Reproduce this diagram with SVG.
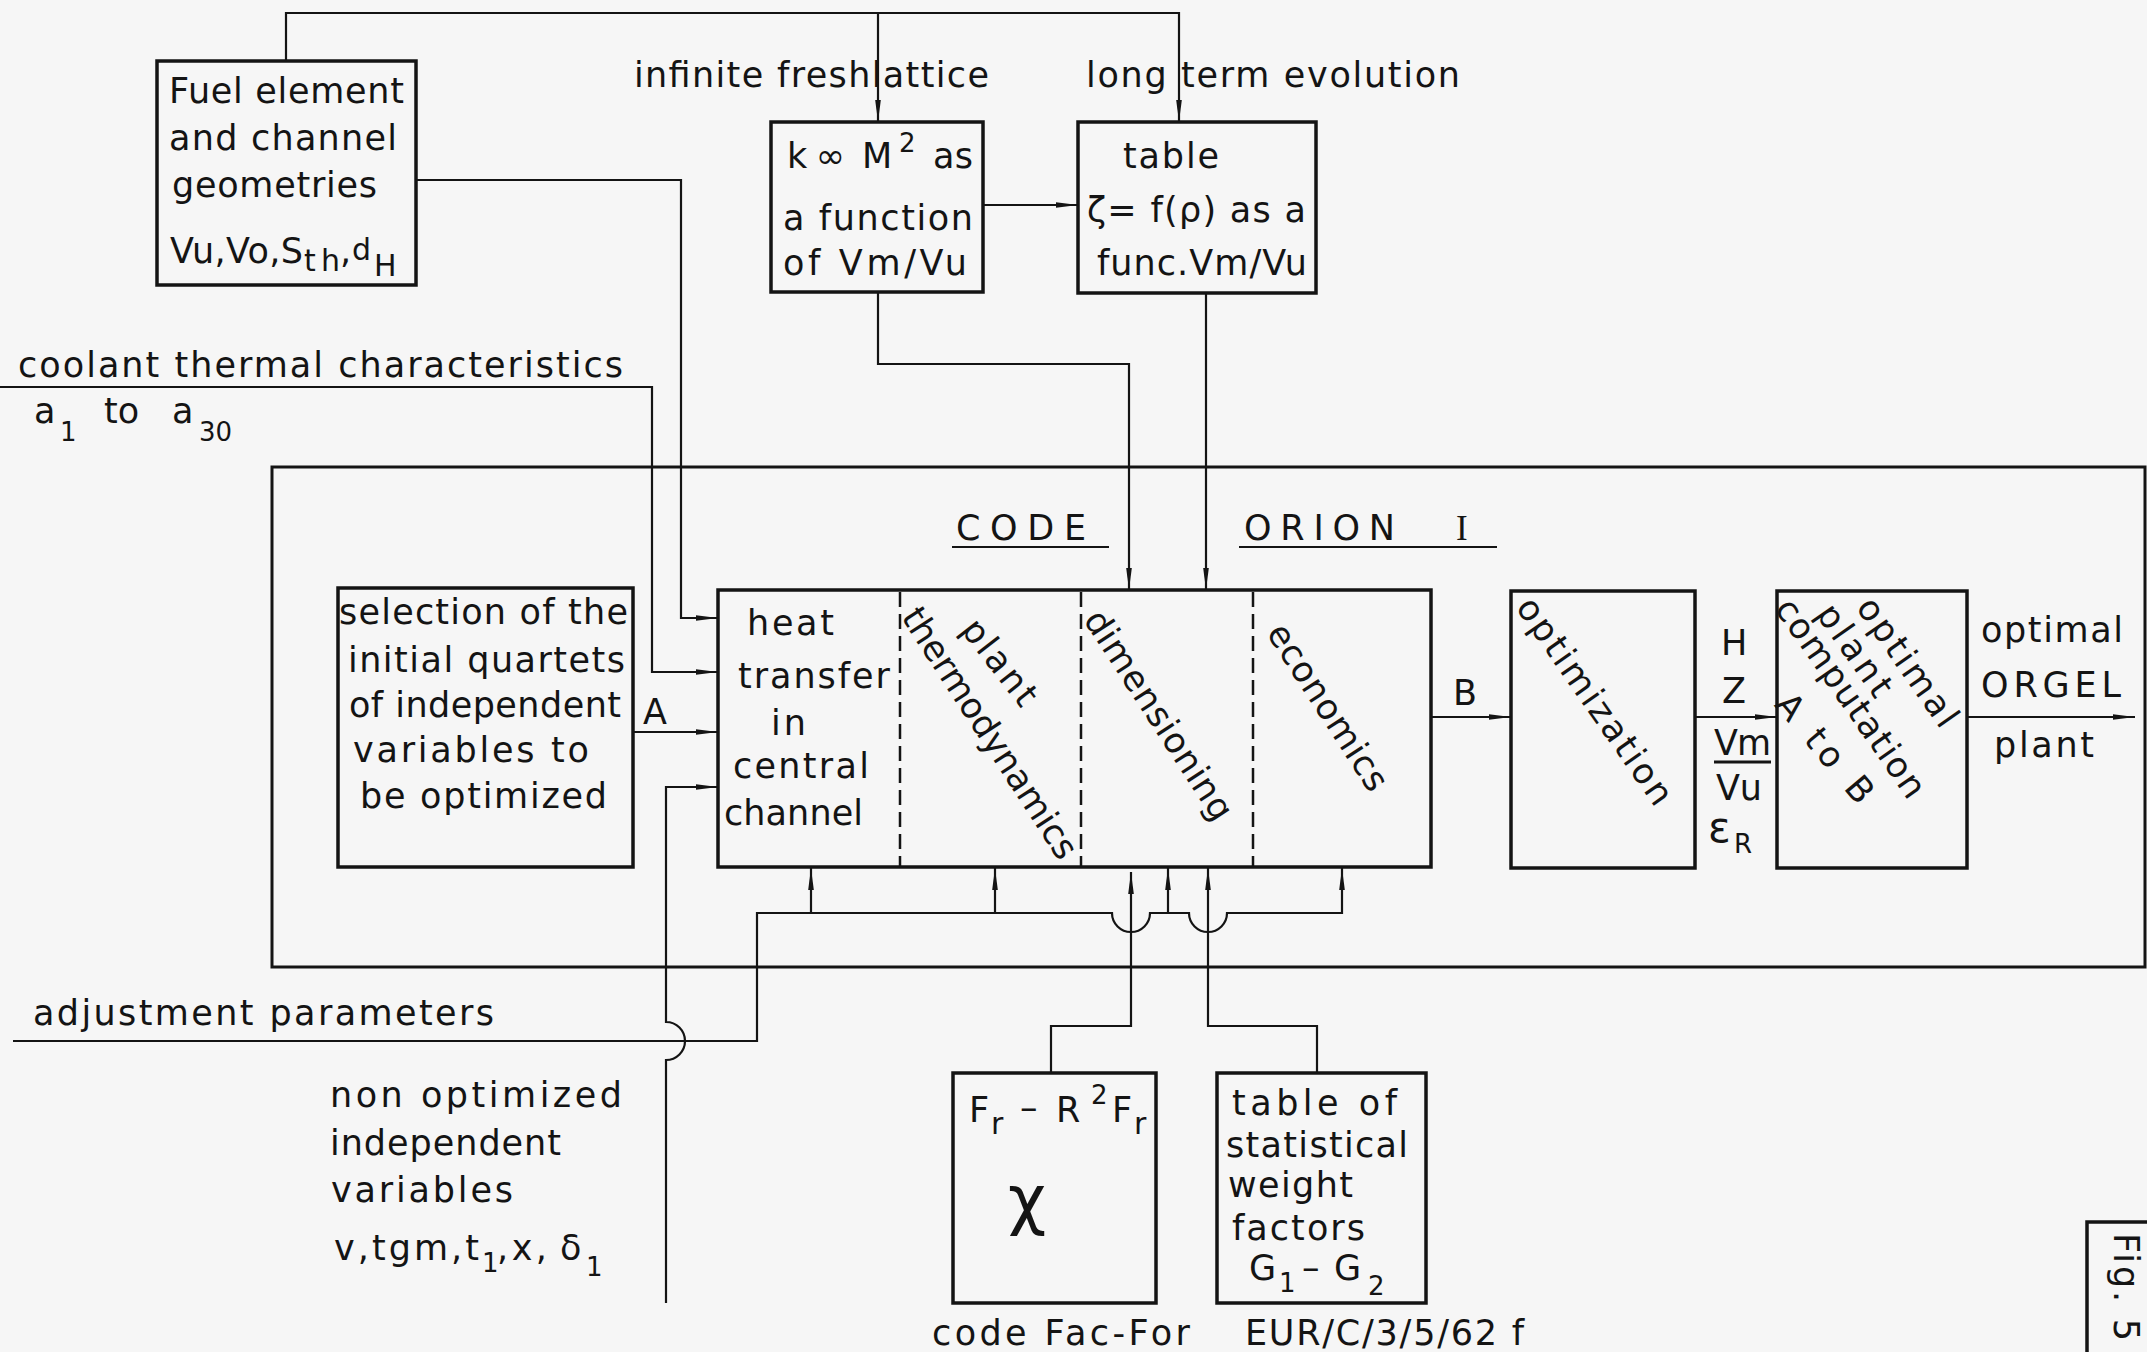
<svg xmlns="http://www.w3.org/2000/svg" width="2147" height="1352" viewBox="0 0 2147 1352">
<style>
.t{font-family:"DejaVu Sans","Liberation Sans",sans-serif;font-size:35px;fill:#141414}
.s{font-size:26px}
.box{fill:none;stroke:#141414;stroke-width:3.5}
.ln{fill:none;stroke:#141414;stroke-width:2.2}
.dash{fill:none;stroke:#141414;stroke-width:2.5;stroke-dasharray:15 7}
.r{text-anchor:middle;dominant-baseline:central}
</style>
<defs>
<marker id="ah" viewBox="0 0 22 8" refX="22" refY="4" markerWidth="22" markerHeight="8" markerUnits="userSpaceOnUse" orient="auto">
<path d="M0,1.2 L22,4 L0,6.8 z" fill="#141414"/>
</marker>
</defs>
<rect x="0" y="0" width="2147" height="1352" fill="#f6f6f6"/>

<g id="outer-code-frame">
<rect class="box" x="272" y="467" width="1873" height="500" style="stroke-width:3"/>
<text class="t" x="956" y="540" textLength="130">CODE</text>
<line class="ln" x1="952" y1="547" x2="1109" y2="547"/>
<text class="t" x="1244" y="540" textLength="151">ORION</text>
<text class="t" x="1456" y="540" style="font-family:'Liberation Serif',serif">I</text>
<line class="ln" x1="1239" y1="547" x2="1497" y2="547"/>
</g>

<g id="fuel-box">
<rect class="box" x="157" y="61" width="259" height="224"/>
<text class="t" x="169" y="103" textLength="235">Fuel element</text>
<text class="t" x="169" y="150" textLength="228">and channel</text>
<text class="t" x="172" y="197" textLength="205">geometries</text>
<text class="t" x="170" y="263" textLength="133">Vu,Vo,S</text>
<text class="t" x="304" y="271" style="font-size:30px" textLength="36">th</text>
<text class="t" x="340" y="263">,</text>
<text class="t" x="352" y="260" style="font-size:30px">d</text>
<text class="t" x="374" y="276" style="font-size:30px">H</text>
</g>

<g id="kinf-box">
<rect class="box" x="771" y="122" width="212" height="170"/>
<text class="t" x="787" y="168" textLength="58">k∞</text>
<text class="t" x="862" y="168">M</text>
<text class="t s" x="899" y="152">2</text>
<text class="t" x="933" y="168" textLength="40">as</text>
<text class="t" x="783" y="230" textLength="190">a function</text>
<text class="t" x="783" y="275" textLength="184">of Vm/Vu</text>
</g>

<g id="table-box">
<rect class="box" x="1078" y="122" width="238" height="171"/>
<text class="t" x="1123" y="168" textLength="96">table</text>
<text class="t" x="1087" y="222" textLength="219">ζ= f(ρ) as a</text>
<text class="t" x="1097" y="275" textLength="210">func.Vm/Vu</text>
</g>

<g id="top-labels">
<text class="t" x="634" y="87" textLength="355">infinite freshlattice</text>
<text class="t" x="1086" y="87" textLength="374">long term evolution</text>
</g>

<g id="coolant-label">
<text class="t" x="18" y="377" textLength="605">coolant thermal  characteristics</text>
<text class="t" x="34" y="423">a</text>
<text class="t s" x="60" y="441">1</text>
<text class="t" x="104" y="423">to</text>
<text class="t" x="172" y="423">a</text>
<text class="t s" x="199" y="441">30</text>
</g>

<g id="selection-box">
<rect class="box" x="338" y="588" width="295" height="279"/>
<text class="t" x="339" y="624" textLength="289">selection of the</text>
<text class="t" x="348" y="672" textLength="277">initial quartets</text>
<text class="t" x="349" y="717" textLength="272">of independent</text>
<text class="t" x="353" y="762" textLength="236">variables to</text>
<text class="t" x="360" y="808" textLength="247">be optimized</text>
</g>

<g id="code-box">
<rect class="box" x="718" y="590" width="713" height="277"/>
<line class="dash" x1="900" y1="592" x2="900" y2="866"/>
<line class="dash" x1="1081" y1="592" x2="1081" y2="866"/>
<line class="dash" x1="1253" y1="592" x2="1253" y2="866"/>
<text class="t" x="747" y="635" textLength="87">heat</text>
<text class="t" x="738" y="688" textLength="152">transfer</text>
<text class="t" x="771" y="735" textLength="35">in</text>
<text class="t" x="733" y="778" textLength="136">central</text>
<text class="t" x="724" y="825" textLength="139">channel</text>
<text class="t r" x="1000" y="662" textLength="100" transform="rotate(52 1000 662)">plant</text>
<text class="t r" x="990" y="733" textLength="292" transform="rotate(57 990 733)">thermodynamics</text>
<text class="t r" x="1159" y="715" textLength="243" transform="rotate(57 1159 715)">dimensioning</text>
<text class="t r" x="1328" y="707" textLength="192" transform="rotate(57 1328 707)">economics</text>
</g>

<g id="optimization-box">
<rect class="box" x="1511" y="591" width="184" height="277"/>
<text class="t r" x="1595" y="701" textLength="245" transform="rotate(55 1595 701)">optimization</text>
</g>

<g id="final-box">
<rect class="box" x="1777" y="591" width="190" height="277"/>
<text class="t r" x="1908" y="662" textLength="150" transform="rotate(55 1908 662)">optimal</text>
<text class="t r" x="1855" y="650" textLength="105" transform="rotate(55 1855 650)">plant</text>
<text class="t r" x="1851" y="698" textLength="235" transform="rotate(55 1851 698)">computation</text>
<text class="t r" x="1825" y="748" textLength="132" transform="rotate(50 1825 748)">A to B</text>
</g>

<g id="fr-box">
<rect class="box" x="953" y="1073" width="203" height="230"/>
<text class="t" x="969" y="1122">F</text>
<text class="t" x="991" y="1134" style="font-size:30px">r</text>
<text class="t" x="1020" y="1120">–</text>
<text class="t" x="1056" y="1122">R</text>
<text class="t s" x="1091" y="1104">2</text>
<text class="t" x="1112" y="1122">F</text>
<text class="t" x="1134" y="1134" style="font-size:30px">r</text>
<text class="t" x="1008" y="1222" style="font-size:66px">χ</text>
</g>

<g id="weights-box">
<rect class="box" x="1217" y="1073" width="209" height="230"/>
<text class="t" x="1232" y="1115" textLength="165">table  of</text>
<text class="t" x="1226" y="1157" textLength="182">statistical</text>
<text class="t" x="1228" y="1197" textLength="125">weight</text>
<text class="t" x="1232" y="1240" textLength="133">factors</text>
<text class="t" x="1249" y="1280">G</text>
<text class="t s" x="1279" y="1292">1</text>
<text class="t" x="1302" y="1280">–</text>
<text class="t" x="1334" y="1280">G</text>
<text class="t s" x="1368" y="1295">2</text>
</g>

<g id="side-labels">
<text class="t" x="643" y="724">A</text>
<text class="t" x="1453" y="705">B</text>
<text class="t" x="1721" y="655">H</text>
<text class="t" x="1722" y="703">Z</text>
<text class="t" x="1714" y="755" textLength="57">Vm</text>
<line class="ln" x1="1714" y1="762" x2="1771" y2="762" style="stroke-width:3"/>
<text class="t" x="1716" y="800" textLength="46">Vu</text>
<text class="t" x="1708" y="842" style="font-size:42px">ε</text>
<text class="t s" x="1734" y="853">R</text>
<text class="t" x="1981" y="642" textLength="142">optimal</text>
<text class="t" x="1981" y="697" textLength="140">ORGEL</text>
<text class="t" x="1994" y="757" textLength="100">plant</text>
<text class="t" x="33" y="1025" textLength="461">adjustment   parameters</text>
<text class="t" x="330" y="1107" textLength="292">non  optimized</text>
<text class="t" x="330" y="1155" textLength="231">independent</text>
<text class="t" x="331" y="1202" textLength="182">variables</text>
<text class="t" x="334" y="1260" textLength="145">v,tgm,t</text>
<text class="t s" x="482" y="1272">1</text>
<text class="t" x="497" y="1260" textLength="50">,x,</text>
<text class="t" x="560" y="1260">δ</text>
<text class="t s" x="586" y="1276">1</text>
<text class="t" x="932" y="1345" textLength="258">code  Fac-For</text>
<text class="t" x="1245" y="1345" textLength="279">EUR/C/3/5/62 f</text>
</g>

<g id="fig-label">
<rect class="box" x="2087" y="1222" width="90" height="160"/>
<text class="t" transform="translate(2114 1233) rotate(90)" x="0" y="0" textLength="108">Fig. 5</text>
</g>

<g id="connectors">
<path class="ln" d="M286,61 V13 H1179 V122" marker-end="url(#ah)"/>
<path class="ln" d="M878,13 V122" marker-end="url(#ah)"/>
<path class="ln" d="M983,205 H1078" marker-end="url(#ah)"/>
<path class="ln" d="M416,180 H681 V618 H718" marker-end="url(#ah)"/>
<path class="ln" d="M0,387 H652 V672 H718" marker-end="url(#ah)"/>
<path class="ln" d="M633,732 H718" marker-end="url(#ah)"/>
<path class="ln" d="M666,1303 V1060 A19,19 0 0 0 666,1022 V787 H718" marker-end="url(#ah)"/>
<path class="ln" d="M878,292 V364 H1129 V590" marker-end="url(#ah)"/>
<path class="ln" d="M1206,293 V590" marker-end="url(#ah)"/>
<path class="ln" d="M13,1041 H757 V913 H1112 A19,19 0 0 0 1150,913 H1189 A19,19 0 0 0 1227,913 H1342 V868" marker-end="url(#ah)"/>
<path class="ln" d="M811,913 V868" marker-end="url(#ah)"/>
<path class="ln" d="M995,913 V868" marker-end="url(#ah)"/>
<path class="ln" d="M1168,913 V868" marker-end="url(#ah)"/>
<path class="ln" d="M1051,1073 V1026 H1131 V872" marker-end="url(#ah)"/>
<path class="ln" d="M1317,1073 V1026 H1208 V868" marker-end="url(#ah)"/>
<path class="ln" d="M1431,717 H1511" marker-end="url(#ah)"/>
<path class="ln" d="M1695,717 H1777" marker-end="url(#ah)"/>
<path class="ln" d="M1967,717 H2135" marker-end="url(#ah)"/>
</g>
</svg>
